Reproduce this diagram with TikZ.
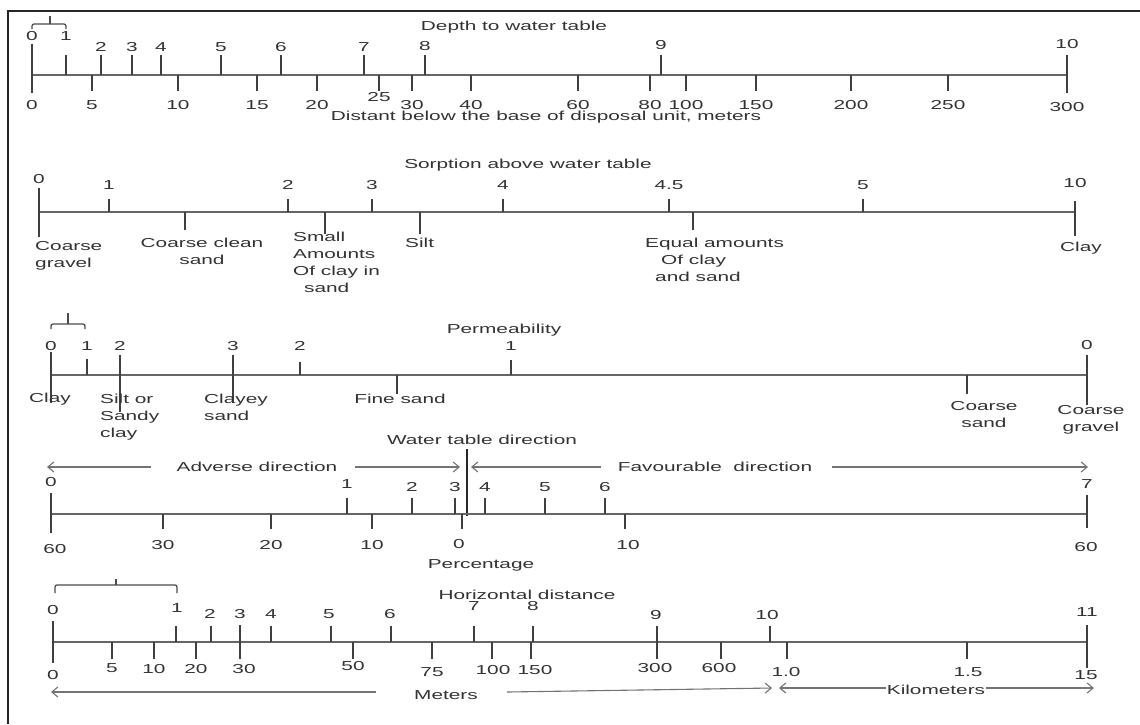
\documentclass[tikz,border=0pt]{standalone}
\usepackage{fontspec}
\setmainfont{Liberation Sans}[FakeStretch=1.6]
\usetikzlibrary{arrows.meta}
\begin{document}
\begin{tikzpicture}[x=1pt,y=-1pt,
  lbl/.style={font=\fontsize{13}{17}\selectfont, text=black!80, inner sep=0pt},
  axisline/.style={draw=black!60, line width=1.4pt},
  tk/.style={draw=black!75, line width=1.3pt},
  bracepath/.style={draw=black!70, line width=1.2pt, rounded corners=2pt},
  arr/.style={draw=black!55, line width=1.1pt, -{Straight Barb[length=6pt,width=10pt]}},
  wtline/.style={draw=black!85, line width=1.5pt}]
\useasboundingbox (0,0) rectangle (1140,724);
\fill[white] (0,0) rectangle (1140,724);
\draw[line width=1.5pt, black!85] (8,724) -- (8,11) -- (1140,11);

% ---------------- Scale 1: depth to water table
\draw[axisline] (32,75) -- (1067,75);
\draw[bracepath] (32,29) -- (32,24) -- (66,24) -- (66,29);
\draw[bracepath] (50,24) -- (50,16);
\node[lbl] (t1) at (514,27) {Depth to water table};
\node[lbl] (t1b) at (546,117) {Distant below the base of disposal unit, meters};
\draw[tk] (32,44) -- (32,93);
\node[lbl] (a0) at (32,36) {0};
\node[lbl] (b0) at (32,105) {0};
\foreach \x/\t/\ly [count=\i] in {66/1/36, 101/2/47, 132/3/47, 161/4/47, 221/5/47, 281/6/47, 364/7/47, 425/8/46, 661/9/45}{
  \draw[tk] (\x,75) -- (\x,55);
  \node[lbl] (a\i) at (\x,\ly) {\t};
}
\draw[tk] (1067,55) -- (1067,93);
\node[lbl] (a10) at (1067,44) {10};
\node[lbl] (b300) at (1067,107) {300};
\foreach \x/\t/\ly [count=\i] in {92/5/105, 178/10/105, 257/15/105, 317/20/105, 379/25/97, 412/30/105, 471/40/105, 578/60/105, 650/80/105, 686/100/105, 756/150/105, 851/200/105, 948/250/105}{
  \draw[tk] (\x,75) -- (\x,91);
  \node[lbl] (b\i) at (\x,\ly) {\t};
}

% ---------------- Scale 2: sorption
\node[lbl] (t2) at (528,165) {Sorption above water table};
\draw[axisline] (39,212) -- (1075,212);
\draw[tk] (39,188) -- (39,237);
\node[lbl] (c0) at (39,179) {0};
\foreach \x/\t [count=\i] in {109/1, 288/2, 372/3, 503/4, 669/4.5, 863/5}{
  \draw[tk] (\x,212) -- (\x,199);
  \node[lbl] (c\i) at (\x,185) {\t};
}
\draw[tk] (1075,201) -- (1075,236);
\node[lbl] (c10) at (1075,183) {10};
\draw[tk] (185,212) -- (185,230);
\draw[tk] (325,212) -- (325,234);
\draw[tk] (420,212) -- (420,234);
\draw[tk] (693,212) -- (693,230);
\node[lbl, align=left, anchor=north west] (s1) at (35,241) {Coarse\\gravel};
\node[lbl, align=center, anchor=north] (s2) at (202,238) {Coarse clean\\sand};
\node[lbl, align=left, anchor=north west] (s3) at (293,232) {Small\\Amounts\\Of clay in\\\hspace*{11pt}sand};
\node[lbl, anchor=north west] (s4) at (405,238) {Silt};
\node[lbl, align=left, anchor=north west] (s5) at (645,238) {Equal amounts\\\hspace*{16pt}Of clay\\\hspace*{10pt}and sand};
\node[lbl] (s6) at (1081,248) {Clay};

% ---------------- Scale 3: permeability
\node[lbl] (t3) at (504,330) {Permeability};
\draw[axisline] (51,375) -- (1087,375);
\draw[bracepath] (51,329) -- (51,324) -- (85,324) -- (85,329);
\draw[bracepath] (68,324) -- (68,313);
\draw[tk] (51,352) -- (51,403);
\draw[tk] (87,359) -- (87,375);
\draw[tk] (120,355) -- (120,412);
\draw[tk] (233,355) -- (233,403);
\draw[tk] (300,362) -- (300,375);
\draw[tk] (397,375) -- (397,394);
\draw[tk] (511,360) -- (511,375);
\draw[tk] (967,375) -- (967,394);
\draw[tk] (1087,355) -- (1087,405);
\node[lbl] (p1) at (51,346) {0};
\node[lbl] (p2) at (87,346) {1};
\node[lbl] (p3) at (120,346) {2};
\node[lbl] (p4) at (233,346) {3};
\node[lbl] (p5) at (300,346) {2};
\node[lbl] (p6) at (511,346) {1};
\node[lbl] (p7) at (1087,345) {0};
\node[lbl] (q1) at (50,399) {Clay};
\node[lbl, align=left, anchor=north west] (q2) at (100,394) {Silt or\\Sandy\\clay};
\node[lbl, align=left, anchor=north west] (q3) at (204,394) {Clayey\\sand};
\node[lbl] (q4) at (400,399) {Fine sand};
\node[lbl, align=center, anchor=north] (q5) at (984,401) {Coarse\\sand};
\node[lbl, align=center, anchor=north] (q6) at (1091,405) {Coarse\\gravel};

% ---------------- Scale 4: water table direction
\node[lbl] (t4) at (482,440) {Water table direction};
\draw[wtline] (467,449) -- (467,516);
\node[lbl] (adv) at (257,467) {Adverse direction};
\node[lbl] (fav) at (715,467) {Favourable\ \ direction};
\coordinate (ad1) at (151,467); \coordinate (ad2) at (47,467);
\coordinate (ad3) at (355,467); \coordinate (ad4) at (460,467);
\coordinate (fv1) at (601,467); \coordinate (fv2) at (471,467);
\coordinate (fv3) at (832,467); \coordinate (fv4) at (1088,467);
\draw[arr] (ad1) -- (ad2);
\draw[arr] (ad3) -- (ad4);
\draw[arr] (fv1) -- (fv2);
\draw[arr] (fv3) -- (fv4);
\draw[axisline] (51,514) -- (1087,514);
\draw[tk] (51,493) -- (51,533);
\node[lbl] (w0) at (51,482) {0};
\foreach \x/\t/\ly [count=\i] in {347/1/484, 412/2/487, 455/3/487, 485/4/487, 545/5/487, 605/6/487}{
  \draw[tk] (\x,514) -- (\x,498);
  \node[lbl] (w\i) at (\x,\ly) {\t};
}
\draw[tk] (1087,495) -- (1087,528);
\node[lbl] (w7) at (1087,484) {7};
\foreach \x/\t [count=\i] in {163/30, 271/20, 372/10, 462/0, 625/10}{
  \draw[tk] (\x,514) -- (\x,529);
}
\node[lbl] (v1) at (55,549) {60};
\node[lbl] (v2) at (163,545) {30};
\node[lbl] (v3) at (271,545) {20};
\node[lbl] (v4) at (372,545) {10};
\node[lbl] (v5) at (459,544) {0};
\node[lbl] (v6) at (628,545) {10};
\node[lbl] (v7) at (1086,547) {60};
\node[lbl] (t4b) at (481,565) {Percentage};

% ---------------- Scale 5: horizontal distance
\node[lbl] (t5) at (527,595) {Horizontal distance};
\draw[bracepath] (55,593) -- (55,585) -- (177,585) -- (177,593);
\draw[bracepath] (116,585) -- (116,579);
\draw[axisline] (53,642) -- (1087,642);
\draw[tk] (53,621) -- (53,663);
\draw[tk] (240,625) -- (240,659);
\draw[tk] (1087,625) -- (1087,668);
\foreach \x in {176, 211, 271, 331, 391, 474, 533, 657, 770}{
  \draw[tk] (\x,642) -- (\x,626);
}
\foreach \x in {112, 154, 196, 353, 432, 492, 531, 657, 721, 787, 967}{
  \draw[tk] (\x,642) -- (\x,659);
}
\foreach \x/\t/\ly [count=\i] in {53/0/610, 177/1/608, 210/2/614, 240/3/614, 271/4/614, 329/5/614, 390/6/614, 474/7/606, 533/8/606, 656/9/615, 767/10/615, 1087/11/612}{
  \node[lbl] (h\i) at (\x,\ly) {\t};
}
\foreach \x/\t/\ly [count=\i] in {53/0/675, 112/5/668, 154/10/669, 196/20/669, 244/30/669, 353/50/666, 432/75/672, 493/100/670, 535/150/670, 655/300/668, 719/600/668, 786/1.0/672, 968/1.5/672, 1086/15/675}{
  \node[lbl] (m\i) at (\x,\ly) {\t};
}
\node[lbl] (met) at (446,695) {Meters};
\coordinate (me1) at (376,692); \coordinate (me2) at (51,692);
\coordinate (me3) at (507,692); \coordinate (me4) at (772,688);
\draw[arr] (me1) -- (me2);
\draw[arr] (me3) -- (me4);
\coordinate (km1) at (779,688); \coordinate (km2) at (1094,688);
\draw[arr, {Straight Barb[length=6pt,width=10pt]}-{Straight Barb[length=6pt,width=10pt]}] (km1) -- (km2);
\node[lbl, fill=white, inner sep=1pt] (km) at (936,690) {Kilometers};
\end{tikzpicture}
\end{document}
